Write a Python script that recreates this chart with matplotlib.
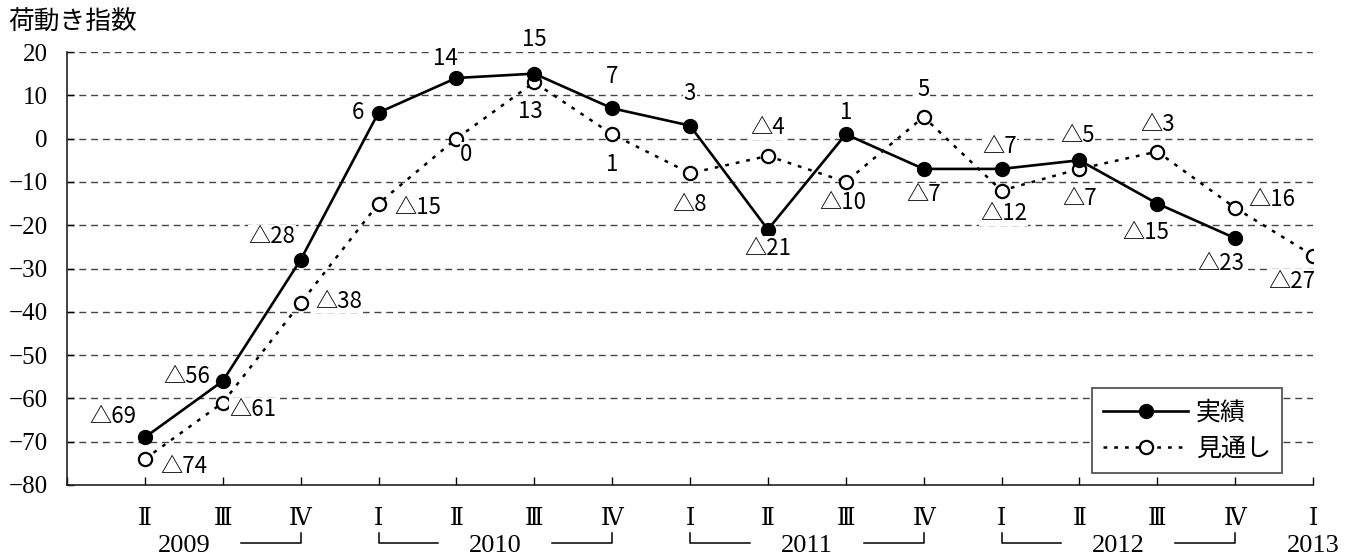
"""
Cargo movement index (荷動き指数): actual vs outlook, 2009 II - 2013 I
"""
import matplotlib.pyplot as plt

plt.rcParams['font.family'] = ['Noto Sans CJK JP', 'DejaVu Sans']

#####################################################################
# Data
#####################################################################
Quarter_Labels = ['Ⅱ', 'Ⅲ', 'Ⅳ', 'Ⅰ', 'Ⅱ', 'Ⅲ', 'Ⅳ', 'Ⅰ', 'Ⅱ', 'Ⅲ', 'Ⅳ',
                  'Ⅰ', 'Ⅱ', 'Ⅲ', 'Ⅳ', 'Ⅰ']
Years = ['2009', '2010', '2011', '2012', '2013']
Actual = [-69, -56, -28, 6, 14, 15, 7, 3, -21, 1, -7, -7, -5, -15, -23]
Outlook = [-74, -61, -38, -15, 0, 13, 1, -8, -4, -10, 5, -12, -7, -3, -16, -27]
Y_Ticks = [20, 10, 0, -10, -20, -30, -40, -50, -60, -70, -80]
Series_Names = ['実績', '見通し']
Y_Title = '荷動き指数'

#####################################################################
# Layout: where each value label sits relative to its point (pixels, right / down)
#####################################################################
Actual_Offsets = [(-32, -21), (-36, -5), (-29, -23), (-21, 0), (-11, -19), (0, -34),
                  (0, -32), (0, -32), (0, 19), (0, -22), (0, 26), (-2, -22),
                  (-2, -25), (-11, 29), (-14, 25)]
Outlook_Offsets = [(39, 7), (30, 7), (38, -2), (39, 4), (10, 16), (-4, 29), (0, 30),
                   (0, 31), (0, -28), (-3, 21), (0, -27), (2, 23), (0, 30),
                   (0, -27), (37, -8), (-21, 26)]

Serif = ['Liberation Serif', 'DejaVu Serif', 'Noto Sans CJK JP']


def Value_Label(v):
    # negative numbers are written with a triangle in Japanese reports
    return '△' + str(-v) if v < 0 else str(v)


Fig = plt.figure(figsize=(13.53, 5.59), dpi=100)
Ax = Fig.add_axes([67 / 1353, 74 / 559, 1246 / 1353, 433 / 559])

X_Actual = list(range(len(Actual)))
X_Outlook = list(range(len(Outlook)))

Ax.plot(X_Outlook, Outlook, color='k', lw=1.8, ls=(0, (1.5, 2.8)), marker='o',
        markersize=9.5, markerfacecolor='white', markeredgecolor='k',
        markeredgewidth=1.6, zorder=3, label=Series_Names[1])
Ax.plot(X_Actual, Actual, color='k', lw=1.9, marker='o', markersize=10,
        markerfacecolor='k', markeredgecolor='k', zorder=4, label=Series_Names[0])

# value labels
for Xs, Ys, Offs in [(X_Actual, Actual, Actual_Offsets), (X_Outlook, Outlook, Outlook_Offsets)]:
    for x, y, (dx, dy) in zip(Xs, Ys, Offs):
        Ax.annotate(Value_Label(y), (x, y), xytext=(dx, -dy), textcoords='offset pixels',
                    ha='center', va='center', fontsize=16, zorder=5,
                    bbox=dict(facecolor='white', edgecolor='none', pad=0.5))

#####################################################################
# Axes
#####################################################################
Ax.set_xlim(-1, len(Quarter_Labels) - 1)
Ax.set_ylim(min(Y_Ticks), max(Y_Ticks))
Ax.set_yticks(Y_Ticks)
Ax.set_yticklabels([str(t).replace('-', '−') for t in Y_Ticks], family=Serif, fontsize=18)
Ax.set_xticks(range(-1, len(Quarter_Labels)))
Ax.set_xticklabels([''] + Quarter_Labels, family=['DejaVu Serif', 'Noto Sans CJK JP'],
                   fontsize=17)
Ax.tick_params(axis='y', direction='in', length=5, pad=14, width=1)
Ax.tick_params(axis='x', direction='in', length=6, pad=16, width=1)

for t in Y_Ticks:
    if t != min(Y_Ticks):
        Ax.axhline(t, color='#444444', lw=1.0, ls=(0, (5, 3.5)), zorder=1)

Ax.spines['top'].set_visible(False)
Ax.spines['right'].set_visible(False)
for s in ['left', 'bottom']:
    Ax.spines[s].set_linewidth(1.2)
    Ax.spines[s].set_color('#222222')

Fig.text(8 / 1353, 1 - 23 / 559, Y_Title, fontsize=18.5, ha='left', va='center')

# year brackets below the quarter labels
Trans = Ax.get_xaxis_transform()
Starts = [i for i, q in enumerate(Quarter_Labels) if q == 'Ⅰ']
Starts = [Starts[0] - 4] + Starts
Y_Line = -0.134
Y_Top = -0.111
Arm = 0.77
for i, Year in enumerate(Years):
    s = Starts[i]
    e = min(s + 3, len(Quarter_Labels) - 1)
    Ax.text((s + e) / 2, -0.141, Year, transform=Trans, ha='center', va='center',
            family=Serif, fontsize=19)
    if e - s < 3:
        continue
    if s >= 0:
        Ax.plot([s, s, s + Arm], [Y_Top, Y_Line, Y_Line], color='k', lw=1.1,
                transform=Trans, clip_on=False)
    Ax.plot([e - Arm, e, e], [Y_Line, Y_Line, Y_Top], color='k', lw=1.1,
            transform=Trans, clip_on=False)

Handles, Labels = Ax.get_legend_handles_labels()
Leg = Ax.legend(Handles[::-1], Labels[::-1], loc='lower right',
                bbox_to_anchor=(0.975, 0.028), borderaxespad=0, fontsize=18,
                handlelength=3.4, handletextpad=0.3, fancybox=False, framealpha=1,
                edgecolor='#555555', borderpad=0.45, labelspacing=0.4)
Leg.get_frame().set_linewidth(1.3)

plt.savefig('out.png', dpi=100)
